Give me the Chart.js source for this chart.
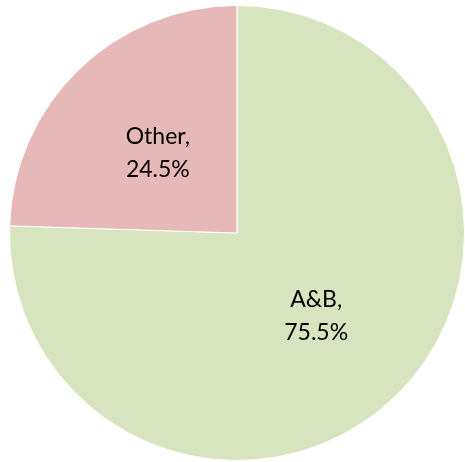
<!DOCTYPE html>
<html>
<head>
<meta charset="utf-8">
<script src="https://cdn.jsdelivr.net/npm/chart.js@4/dist/chart.umd.min.js"></script>
<style>
html,body{margin:0;padding:0;background:#fff;}
#wrap{width:465px;height:462px;}
</style>
</head>
<body>
<div id="wrap"><canvas id="c" width="465" height="462"></canvas></div>
<script>
const categories = ["A&B", "Other"];
const values = [75.5, 24.5];
const colors = ["#D7E4BD", "#E6B9B8"];

const labelPlugin = {
  id: 'sliceLabels',
  afterDatasetsDraw(chart) {
    const ctx = chart.ctx;
    const meta = chart.getDatasetMeta(0);
    ctx.save();
    ctx.font = '23px Lato, "Open Sans", sans-serif';
    ctx.fillStyle = '#000';
    ctx.textAlign = 'center';
    ctx.textBaseline = 'middle';
    meta.data.forEach((arc, i) => {
      const p = arc.tooltipPosition();
      ctx.fillText(categories[i] + ',', p.x, p.y - 15);
      ctx.fillText(values[i].toFixed(1) + '%', p.x, p.y + 18);
    });
    ctx.restore();
  }
};

new Chart(document.getElementById('c'), {
  type: 'pie',
  data: {
    labels: categories,
    datasets: [{
      data: values,
      backgroundColor: colors,
      borderColor: '#ffffff',
      borderWidth: 1
    }]
  },
  options: {
    responsive: false,
    animation: false,
    layout: { padding: { left: 9, right: 0, top: 4, bottom: 0 } },
    plugins: { legend: { display: false }, tooltip: { enabled: false } }
  },
  plugins: [labelPlugin]
});
</script>
</body>
</html>
